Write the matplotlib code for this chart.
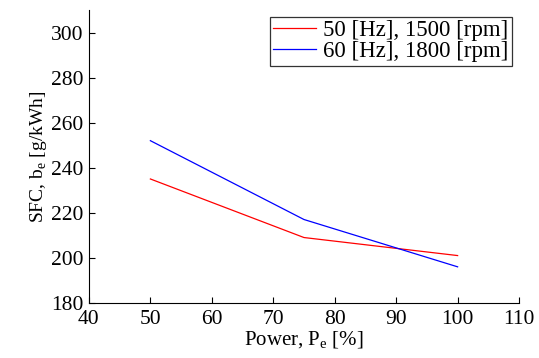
import matplotlib
matplotlib.use("Agg")
import matplotlib.pyplot as plt

power = [50, 75, 100]
sfc_50hz = [235, 209, 201]
sfc_60hz = [252, 217, 196]
labels = ["50 [Hz], 1500 [rpm]", "60 [Hz], 1800 [rpm]"]

plt.rcParams['font.family'] = ['Liberation Serif', 'DejaVu Serif']
plt.rcParams['mathtext.fontset'] = 'custom'
plt.rcParams['mathtext.rm'] = 'Liberation Serif'

fig = plt.figure(figsize=(5.39, 3.58), dpi=100)
ax = fig.add_axes([0.165, 0.154, 0.798, 0.818])
ax.plot(power, sfc_50hz, color='red', lw=0.9, label=labels[0])
ax.plot(power, sfc_60hz, color='blue', lw=0.9, label=labels[1])
ax.set_xlim(40, 110)
ax.set_ylim(180, 310)
ax.set_xticks(range(40, 111, 10))
ax.set_yticks(range(180, 301, 20))
ax.spines['top'].set_visible(False)
ax.spines['right'].set_visible(False)
ax.tick_params(direction='in', labelsize=15.5, length=4)
ax.tick_params(axis='x', pad=5)
ax.tick_params(axis='y', pad=4)
for lbl in ax.get_yticklabels():
    lbl.set_verticalalignment('center_baseline')
ax.set_xlabel(r'Power, P$_\mathrm{e}$ [%]', fontsize=15, labelpad=0.5)
ax.set_ylabel(r'SFC, b$_\mathrm{e}$ [g/kWh]', fontsize=14, labelpad=1)
leg = ax.legend(loc='upper right', fontsize=16.5, frameon=True, fancybox=False,
                edgecolor='black', borderpad=0.15, handlelength=1.9,
                handletextpad=0.3, labelspacing=0.0, borderaxespad=0.3)
leg.get_frame().set_linewidth(0.9)
fig.savefig('out.png', dpi=100)
